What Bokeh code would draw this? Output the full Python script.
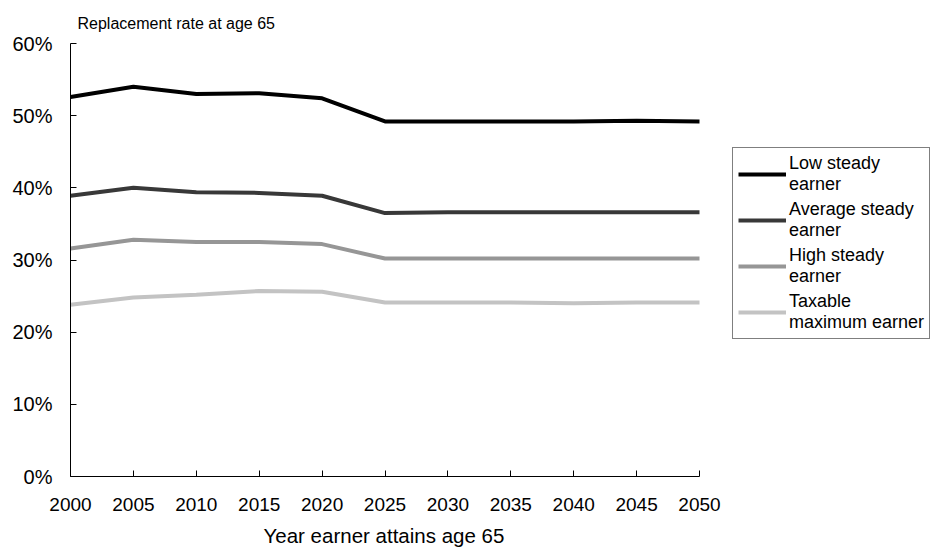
from bokeh.plotting import figure
from bokeh.models import Legend, LegendItem, FixedTicker, NumeralTickFormatter, Range1d, Title
from bokeh.embed import file_html
from bokeh.resources import INLINE

years = [2000, 2005, 2010, 2015, 2020, 2025, 2030, 2035, 2040, 2045, 2050]
low_steady = [0.526, 0.540, 0.530, 0.531, 0.524, 0.492, 0.492, 0.492, 0.492, 0.493, 0.492]
average_steady = [0.389, 0.400, 0.394, 0.393, 0.389, 0.365, 0.366, 0.366, 0.366, 0.366, 0.366]
high_steady = [0.316, 0.328, 0.325, 0.325, 0.322, 0.302, 0.302, 0.302, 0.302, 0.302, 0.302]
taxable_max = [0.238, 0.248, 0.252, 0.257, 0.256, 0.241, 0.241, 0.241, 0.240, 0.241, 0.241]

series_names = ["Low steady\nearner", "Average steady\nearner", "High steady\nearner",
                "Taxable\nmaximum earner"]
series_values = [low_steady, average_steady, high_steady, taxable_max]
series_colors = ["#000000", "#383838", "#969696", "#c3c3c3"]

x_ticks = [2000, 2005, 2010, 2015, 2020, 2025, 2030, 2035, 2040, 2045, 2050]
y_ticks = [0.0, 0.1, 0.2, 0.3, 0.4, 0.5, 0.6]

FONT = "Liberation Sans"

# frame spans 70..930 px; the data axis occupies 2000..2050 (70..699 px),
# the rest of the frame holds the legend
X_END = 2000 + 50 * (930 - 70) / (699 - 70)

p = figure(width=933, height=554, output_backend="svg", toolbar_location=None,
           x_range=Range1d(2000, X_END), y_range=Range1d(0, 0.6),
           min_border_left=70, min_border_right=3, min_border_top=43, min_border_bottom=78)
p.outline_line_color = None
p.xgrid.grid_line_color = None
p.ygrid.grid_line_color = None
p.background_fill_color = "white"
p.border_fill_color = "white"

p.title.text = "Replacement rate at age 65"
p.title.text_font = FONT
p.title.text_font_size = "16px"
p.title.text_font_style = "normal"
p.title.text_color = "black"
p.title.align = "left"
p.title.offset = 7
p.title.standoff = 24

items = []
for name, vals, col in zip(series_names, series_values, series_colors):
    r = p.line(years, vals, line_color=col, line_width=4)
    items.append(LegendItem(label=name, renderers=[r]))

xa = p.xaxis[0]
xa.ticker = FixedTicker(ticks=x_ticks)
xa.bounds = (2000, 2050)
xa.major_label_text_font = FONT
xa.major_label_text_font_size = "19px"
xa.major_label_text_color = "black"
xa.major_label_standoff = 21
xa.major_tick_in = 6
xa.major_tick_out = 0
xa.minor_tick_line_color = None
xa.axis_line_color = "black"
xa.major_tick_line_color = "black"

xtitle = Title(text="Year earner attains age 65", align="left", offset=193,
               text_font=FONT, text_font_size="20.5px", text_font_style="normal",
               text_color="black", standoff=16)
p.add_layout(xtitle, "below")

ya = p.yaxis[0]
ya.ticker = FixedTicker(ticks=y_ticks)
ya.formatter = NumeralTickFormatter(format="0%")
ya.major_label_text_font = FONT
ya.major_label_text_font_size = "20px"
ya.major_label_text_color = "black"
ya.major_label_standoff = 18
ya.major_tick_in = 6
ya.major_tick_out = 0
ya.minor_tick_line_color = None
ya.axis_line_color = "black"
ya.major_tick_line_color = "black"

legend = Legend(items=items, location=(662, 137))
legend.label_text_font = FONT
legend.label_text_font_size = "18px"
legend.label_text_color = "black"
legend.glyph_width = 48
legend.label_standoff = 3
legend.padding = 5
legend.spacing = 4
legend.margin = 0
legend.border_line_color = "black"
legend.border_line_width = 1
legend.background_fill_alpha = 1
p.add_layout(legend, "center")

open("out.html", "w").write(file_html(p, INLINE))
